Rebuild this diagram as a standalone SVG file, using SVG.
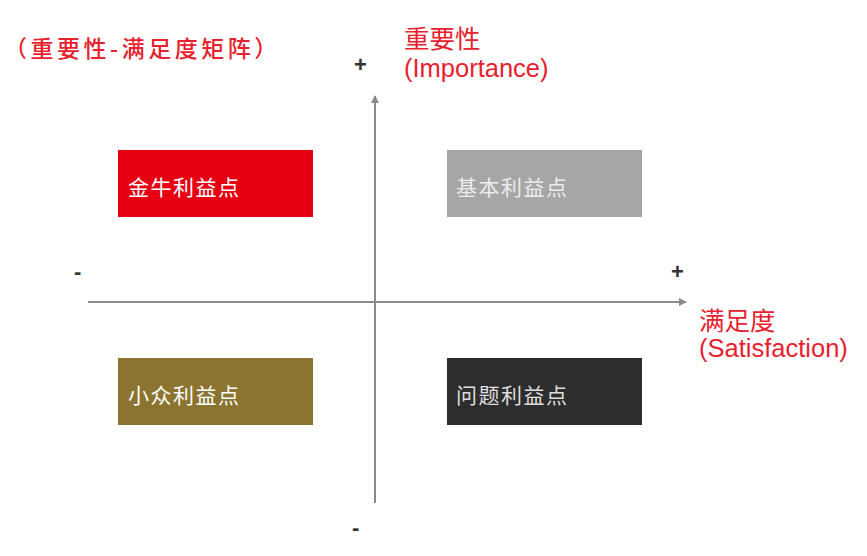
<svg xmlns="http://www.w3.org/2000/svg" width="867" height="556" viewBox="0 0 867 556">
<style>
.red{fill:#e8212e;font-family:"Liberation Sans","Noto Sans CJK SC",sans-serif;font-size:25.5px}
.title{fill:#e8212e;font-family:"Noto Sans CJK SC",sans-serif;font-size:23px;font-weight:500;letter-spacing:3.5px}
.lbl{font-family:"Noto Sans CJK SC",sans-serif;font-size:21px;letter-spacing:1.5px}
.sign{fill:#333;font-family:"Liberation Sans",sans-serif;font-size:22px;font-weight:bold}
.axis{stroke:#8a8a8a;stroke-width:2;fill:none}
</style>
<defs>
<marker id="ah" markerWidth="8" markerHeight="8" refX="7" refY="4" orient="auto" markerUnits="userSpaceOnUse">
<path d="M0,0 L8,4 L0,8 Z" fill="#8a8a8a"/>
</marker>
</defs>
<rect width="867" height="556" fill="#fff"/>
<g id="connectors">
<line class="axis" x1="375" y1="503" x2="375" y2="96" marker-end="url(#ah)"/>
<line class="axis" x1="88" y1="302" x2="686" y2="302" marker-end="url(#ah)"/>
</g>
<g id="title"><text class="title" x="4" y="57">（重要性-满足度矩阵）</text></g>
<g id="y-label"><text class="red" x="404" y="48">重要性</text><text class="red" x="404" y="77">(Importance)</text></g>
<g id="x-label"><text class="red" x="699" y="330">满足度</text><text class="red" x="699" y="357">(Satisfaction)</text></g>
<g id="signs">
<text class="sign" x="354" y="72">+</text>
<text class="sign" x="74" y="279">-</text>
<text class="sign" x="671" y="279">+</text>
<text class="sign" x="352" y="535">-</text>
</g>
<g id="node-jinniu"><rect x="118" y="150" width="195" height="67" fill="#e60012"/><text class="lbl" x="128" y="195" fill="#fff">金牛利益点</text></g>
<g id="node-jiben"><rect x="447" y="150" width="195" height="67" fill="#a6a6a6"/><text class="lbl" x="456" y="195" fill="#ececec">基本利益点</text></g>
<g id="node-xiaozhong"><rect x="118" y="358" width="195" height="67" fill="#8b7430"/><text class="lbl" x="128" y="403" fill="#fff">小众利益点</text></g>
<g id="node-wenti"><rect x="447" y="358" width="195" height="67" fill="#2d2d2d"/><text class="lbl" x="456" y="403" fill="#dedede">问题利益点</text></g>
</svg>
